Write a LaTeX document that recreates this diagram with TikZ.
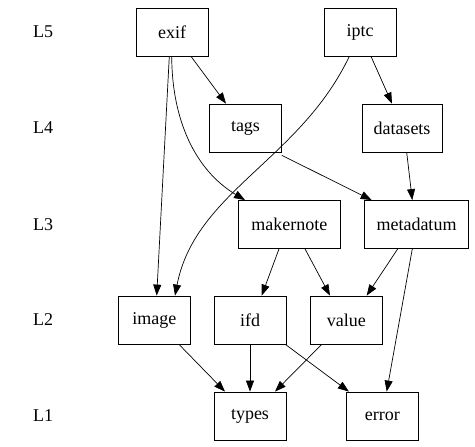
\documentclass[tikz,border=0pt]{standalone}
\usepackage{fontspec}
\setmainfont{Liberation Serif}
\newfontfamily\tms{Liberation Serif}
\usetikzlibrary{arrows.meta}
\begin{document}
\begin{tikzpicture}[x=1pt,y=-1pt,
  box/.style={draw, line width=0.8pt, minimum height=48pt, minimum width=72pt, inner sep=0pt, font=\tms\fontsize{18}{20}\selectfont},
  lvl/.style={inner sep=0pt, font=\tms\fontsize{18}{20}\selectfont},
  arr/.style={line width=0.7pt, -{Triangle[length=11pt,width=8pt]}}]
\useasboundingbox (0,0) rectangle (475,447);
\fill[white] (0,0) rectangle (475,447);
% level labels
\node[lvl] (l5) at (43,32) {L5};
\node[lvl] (l4) at (43,128) {L4};
\node[lvl] (l3) at (43,224.5) {L3};
\node[lvl] (l2) at (43,320) {L2};
\node[lvl] (l1) at (43,416) {L1};
% nodes
\node[box] (exif) at (172,32) {exif};
\node[box] (iptc) at (360,32) {iptc};
\node[box] (tags) at (245.5,128) {tags};
\node[box, minimum width=80pt] (datasets) at (402,128) {datasets};
\node[box, minimum width=102pt] (makernote) at (289.3,224.5) {makernote};
\node[box, minimum width=104pt] (metadatum) at (416.5,224.5) {metadatum};
\node[box] (image) at (154.3,320) {image};
\node[box] (ifd) at (250,320) {ifd};
\node[box] (value) at (346.3,320) {value};
\node[box] (types) at (250,416) {types};
\node[box] (error) at (382.3,416) {error};
% edges
\draw[arr] ([xshift=19pt]exif.south) -- ([xshift=-19.5pt]tags.north);
\draw[arr] ([xshift=-2.7pt]exif.south) -- ([xshift=2.4pt]image.north);
\draw[arr] ([xshift=-0.3pt]exif.south) .. controls (172,120) and (195,170) .. ([xshift=-44.3pt]makernote.north);
\draw[arr] ([xshift=11pt]iptc.south) -- ([xshift=-10pt]datasets.north);
\draw[arr] ([xshift=-10.7pt]iptc.south) .. controls (300,160) and (195,192) .. ([xshift=20.7pt]image.north);
\draw[arr] ([yshift=-3pt]tags.south east) -- ([xshift=-44.8pt]metadatum.north);
\draw[arr] ([xshift=4.7pt]datasets.south) -- ([xshift=-4.2pt]metadatum.north);
\draw[arr] ([xshift=-10.3pt]makernote.south) -- ([xshift=11.7pt]ifd.north);
\draw[arr] ([xshift=15.7pt]makernote.south) -- ([xshift=-16.3pt]value.north);
\draw[arr] ([xshift=-18.8pt]metadatum.south) -- ([xshift=20.4pt]value.north);
\draw[arr] ([xshift=-4.2pt]metadatum.south) -- ([xshift=4.4pt]error.north);
\draw[arr] ([xshift=24.7pt]image.south) -- ([xshift=-25pt]types.north);
\draw[arr] (ifd.south) -- (types.north);
\draw[arr] ([xshift=-24.6pt]value.south) -- ([xshift=25pt]types.north);
\draw[arr] ([xshift=-1pt]ifd.south east) -- ([xshift=3pt]error.north west);
\end{tikzpicture}
\end{document}
